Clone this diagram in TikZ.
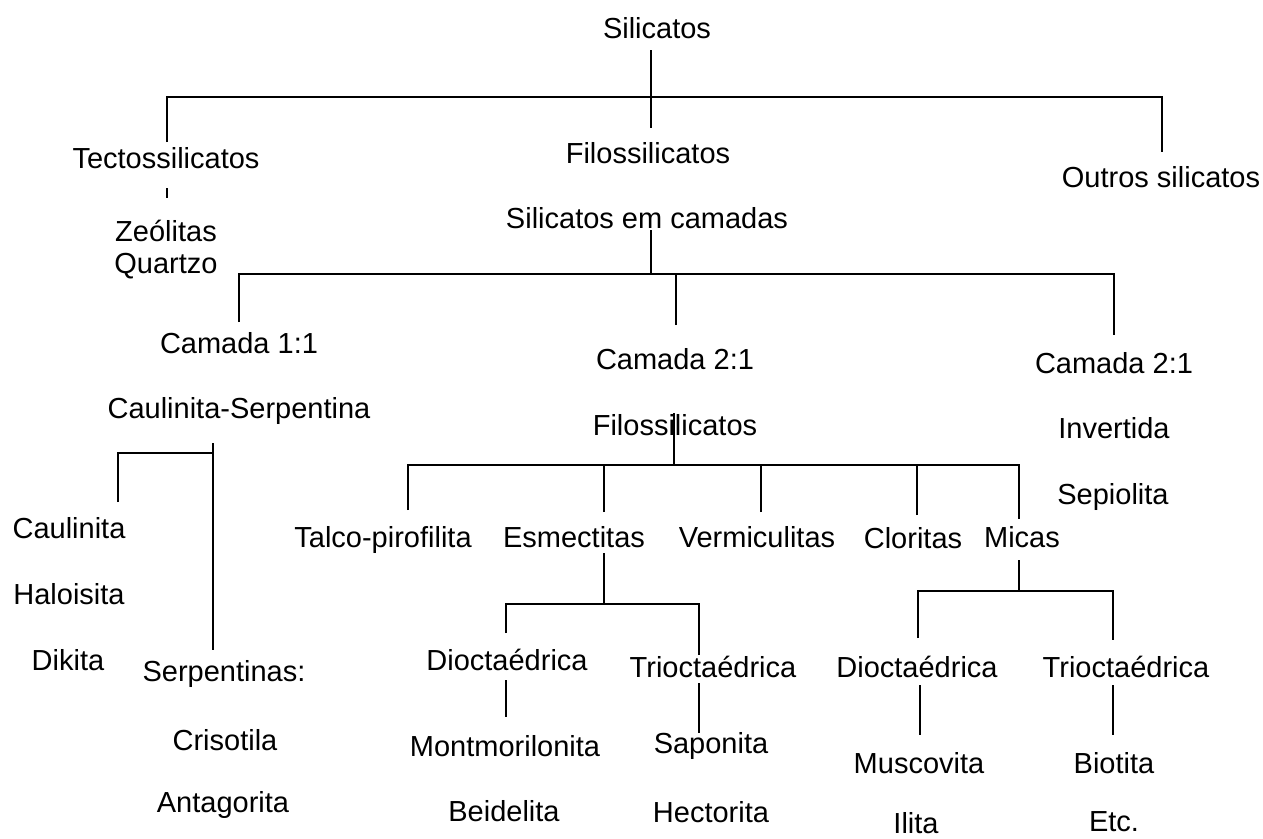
\documentclass[tikz,border=0pt]{standalone}
\usepackage{fontspec}
\setmainfont{Liberation Sans}

\begin{document}
\begin{tikzpicture}[x=1bp, y=-1bp, line width=1.8bp]
\tikzstyle{lbl}=[anchor=base, inner sep=0pt, font=\fontsize{29bp}{34bp}\selectfont]

\useasboundingbox (0,0) rectangle (1263,839);

\node[lbl] (sil) at (657,38) {Silicatos};

\node[lbl] (tec) at (166,168) {Tectossilicatos};
\node[lbl] (fil) at (648,163) {Filossilicatos};
\node[lbl] (out) at (1161,187) {Outros silicatos};

\node[lbl] (zeo) at (166,241) {Zeólitas};
\node[lbl] (qua) at (166,273) {Quartzo};
\node[lbl] (cam) at (647,228) {Silicatos em camadas};

\node[lbl] (c11) at (239,353) {Camada 1:1};
\node[lbl] (c21) at (675,369) {Camada 2:1};
\node[lbl] (c21i) at (1114,373) {Camada 2:1};

\node[lbl] (cser) at (239,418) {Caulinita-Serpentina};
\node[lbl] (fil2) at (675,435) {Filossilicatos};
\node[lbl] (inv) at (1114,438) {Invertida};
\node[lbl] (sep) at (1113,504) {Sepiolita};

\node[lbl] (cau) at (69,538) {Caulinita};
\node[lbl] (hal) at (69,604) {Haloisita};
\node[lbl] (dik) at (68,670) {Dikita};
\node[lbl] (serp) at (224,681) {Serpentinas:};
\node[lbl] (cris) at (225,750) {Crisotila};
\node[lbl] (ant) at (223,812) {Antagorita};

\node[lbl] (talc) at (383,547) {Talco-pirofilita};
\node[lbl] (esm) at (574,547) {Esmectitas};
\node[lbl] (ver) at (757,547) {Vermiculitas};
\node[lbl] (clo) at (913,548) {Cloritas};
\node[lbl] (mic) at (1022,547) {Micas};

\node[lbl] (dioE) at (507,670) {Dioctaédrica};
\node[lbl] (trioE) at (713,677) {Trioctaédrica};
\node[lbl] (dioM) at (917,677) {Dioctaédrica};
\node[lbl] (trioM) at (1126,677) {Trioctaédrica};

\node[lbl] (mont) at (505,756) {Montmorilonita};
\node[lbl] (bei) at (504,821) {Beidelita};
\node[lbl] (sap) at (711,753) {Saponita};
\node[lbl] (hec) at (711,822) {Hectorita};
\node[lbl] (mus) at (919,773) {Muscovita};
\node[lbl] (ili) at (916,833) {Ilita};
\node[lbl] (bio) at (1114,773) {Biotita};
\node[lbl] (etc) at (1114,831) {Etc.};

% silicatos
\coordinate (silB) at (651,50);
\coordinate (bar1) at (651,97);
\coordinate (filT) at (651,128);
\coordinate (tecT) at (167,142);
\coordinate (outT) at (1162,152);
\draw (silB) -- (filT);
\draw (tecT) |- (bar1) -| (outT);
\coordinate (tecA) at (167,188);
\coordinate (tecB) at (167,198);
\draw (tecA) -- (tecB);

% silicatos em camadas
\coordinate (camB) at (651,230);
\coordinate (bar2) at (651,274);
\coordinate (c11T) at (239,322);
\coordinate (c21T) at (676,325);
\coordinate (c21iT) at (1114,335);
\draw (camB) -- (bar2);
\draw (c11T) |- (bar2) -| (c21iT);
\draw (c21T) -- (c21T |- bar2);

% caulinita-serpentina
\coordinate (cserB) at (213,443);
\coordinate (bar3) at (213,453);
\coordinate (serpT) at (213,650);
\coordinate (cauT) at (118,502);
\draw (cserB) -- (serpT);
\draw (cauT) |- (bar3);

% filossilicatos 2:1
\coordinate (fil2B) at (674,413);
\coordinate (bar4) at (674,465);
\coordinate (talcT) at (408,510);
\coordinate (esmT) at (604,512);
\coordinate (verT) at (761,512);
\coordinate (cloT) at (917,515);
\coordinate (micT) at (1019,519);
\draw (fil2B) -- (bar4);
\draw (talcT) |- (bar4) -| (micT);
\foreach \c in {esmT,verT,cloT}
  \draw (\c) -- (\c |- bar4);

% esmectitas
\coordinate (esmB) at (604,553);
\coordinate (bar5) at (604,604);
\coordinate (dioET) at (506,633);
\coordinate (trioET) at (699,655);
\draw (esmB) -- (bar5);
\draw (dioET) |- (bar5) -| (trioET);
\coordinate (dioEB) at (506,680);
\coordinate (montT) at (506,717);
\coordinate (trioEB) at (699,683);
\coordinate (sapT) at (699,733);
\draw (dioEB) -- (montT);
\draw (trioEB) -- (sapT);

% micas
\coordinate (micB) at (1019,560);
\coordinate (bar6) at (1019,591);
\coordinate (dioMT) at (918,638);
\coordinate (trioMT) at (1113,640);
\draw (micB) -- (bar6);
\draw (dioMT) |- (bar6) -| (trioMT);
\coordinate (dioMB) at (920,685);
\coordinate (musT) at (920,735);
\coordinate (trioMB) at (1113,685);
\coordinate (bioT) at (1113,735);
\draw (dioMB) -- (musT);
\draw (trioMB) -- (bioT);

\end{tikzpicture}
\end{document}
